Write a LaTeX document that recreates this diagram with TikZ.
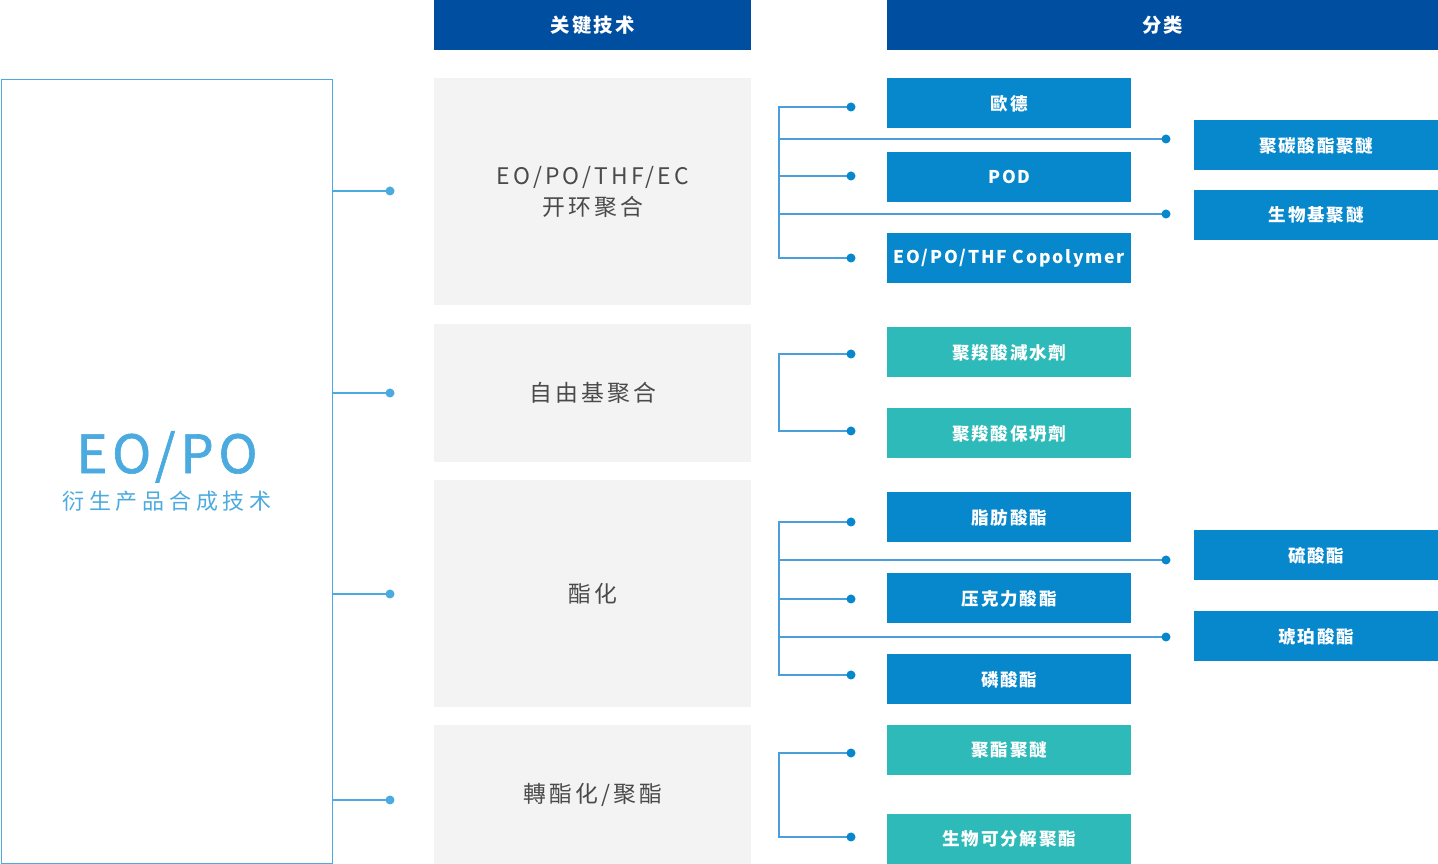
\documentclass[tikz,border=0pt]{standalone}
\usepackage{fontspec}
\setmainfont{Noto Sans CJK SC}
\definecolor{hdblue}{HTML}{004EA0}
\definecolor{catblue}{HTML}{0787CC}
\definecolor{catteal}{HTML}{2EBAB8}
\definecolor{techgray}{HTML}{F3F3F3}
\definecolor{techtext}{HTML}{4A4A4A}
\definecolor{eoblue}{HTML}{4BAADF}
\definecolor{linkblue}{HTML}{4A9FDA}
\tikzset{
	header/.style={fill=hdblue,text=white,inner sep=0pt,anchor=north west,minimum height=1cm,
		font=\fontsize{11}{12}\selectfont\bfseries\addfontfeatures{LetterSpace=12}},
	tech/.style={fill=techgray,text=techtext,inner sep=0pt,anchor=north west,minimum width=6.34cm,align=center,
		font=\fontsize{13}{18}\selectfont\addfontfeatures{LetterSpace=14}},
	cat/.style={fill=catblue,text=white,inner sep=0pt,anchor=north west,minimum width=4.88cm,minimum height=1cm,
		font=\fontsize{10}{11}\selectfont\bfseries\addfontfeatures{LetterSpace=10}},
	catb/.style={cat,fill=catteal},
	link/.style={draw=linkblue,line width=0.6pt},
	dot/.style={fill=catblue},
	ldot/.style={fill=eoblue}
}
\begin{document}
\begin{tikzpicture}[x=0.02cm,y=-0.02cm]
	\useasboundingbox (0,0) rectangle (1438,864);
	% headers
	\node[header,minimum width=6.34cm] (hkey) at (434,0) {关键技术};
	\node[header,minimum width=11.02cm] (hcat) at (887,0) {分类};
	% left box
	\node[draw=eoblue,line width=0.6pt,fill=white,anchor=north west,minimum width=6.62cm,minimum height=15.68cm,
		inner sep=0pt,align=center,text=eoblue] (eopo) at (1,79)
		{{\fontsize{30}{34}\selectfont\addfontfeatures{LetterSpace=9,FakeBold=1.2}EO/PO}\\[4pt]
		 {\fontsize{12.5}{16}\selectfont\addfontfeatures{LetterSpace=22}衍生产品合成技术}};
	% key technologies
	\node[tech,minimum height=4.54cm] (t1) at (434,78) {EO/PO/THF/EC\\开环聚合};
	\node[tech,minimum height=2.76cm] (t2) at (434,324) {自由基聚合};
	\node[tech,minimum height=4.54cm] (t3) at (434,480) {酯化};
	\node[tech,minimum height=2.78cm] (t4) at (434,725) {轉酯化/聚酯};
	% left connectors
	\foreach \y/\n in {191/1,393/2,594/3,800/4}{
		\coordinate (l\n) at (390,\y);
		\draw[link,draw=eoblue] (eopo.east |- l\n) -- (l\n);
		\fill[ldot] (l\n) circle (4.5);
	}
	% categories
	\node[cat] (c1) at (887,78) {歐德};
	\node[cat] (c2) at (887,152) {POD};
	\node[cat] (c3) at (887,233) {EO/PO/THF Copolymer};
	\node[cat] (c4) at (1194,120) {聚碳酸酯聚醚};
	\node[cat] (c5) at (1194,190) {生物基聚醚};
	\node[catb] (c6) at (887,327) {聚羧酸減水劑};
	\node[catb] (c7) at (887,408) {聚羧酸保坍劑};
	\node[cat] (c8) at (887,492) {脂肪酸酯};
	\node[cat] (c9) at (887,573) {压克力酸酯};
	\node[cat] (c10) at (887,654) {磷酸酯};
	\node[cat] (c11) at (1194,530) {硫酸酯};
	\node[cat] (c12) at (1194,611) {琥珀酸酯};
	\node[catb] (c13) at (887,725) {聚酯聚醚};
	\node[catb] (c14) at (887,814) {生物可分解聚酯};
	% brackets
	\foreach \y/\n in {107/1,176/2,258/3,354/6,431/7,522/8,599/9,675/10,753/13,837/14}{
		\coordinate (d\n) at (851,\y);
		\coordinate (b\n) at (779,\y);
	}
	\foreach \y/\n in {139/4,214/5,560/11,637/12}{
		\coordinate (d\n) at (1166,\y);
		\coordinate (b\n) at (779,\y);
	}
	\draw[link] (d1) -- (b1) -- (b3) -- (d3);
	\draw[link] (b2) -- (d2);
	\draw[link] (b4) -- (d4);
	\draw[link] (b5) -- (d5);
	\draw[link] (d6) -- (b6) -- (b7) -- (d7);
	\draw[link] (d8) -- (b8) -- (b10) -- (d10);
	\draw[link] (b9) -- (d9);
	\draw[link] (b11) -- (d11);
	\draw[link] (b12) -- (d12);
	\draw[link] (d13) -- (b13) -- (b14) -- (d14);
	\foreach \n in {1,...,14}{
		\fill[dot] (d\n) circle (4.5);
	}
\end{tikzpicture}
\end{document}
